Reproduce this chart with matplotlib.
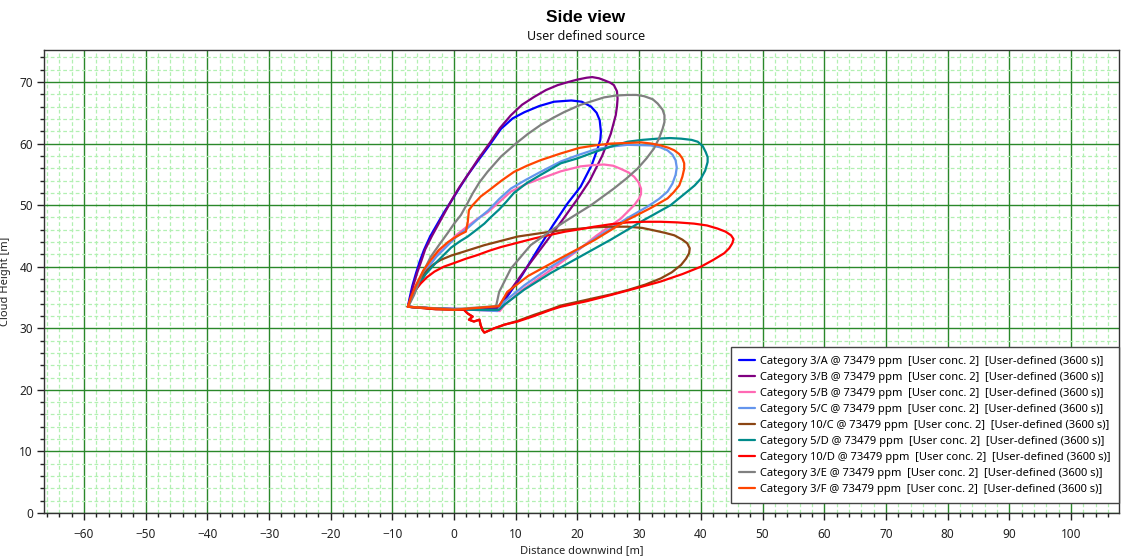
import matplotlib
matplotlib.use("Agg")
import matplotlib.pyplot as plt
from matplotlib.ticker import MultipleLocator

plt.rcParams['font.family'] = ['Noto Sans', 'DejaVu Sans']

# ---------------- data ----------------
labels = [
    "Category 3/A @ 73479 ppm  [User conc. 2]  [User-defined (3600 s)]",
    "Category 3/B @ 73479 ppm  [User conc. 2]  [User-defined (3600 s)]",
    "Category 5/B @ 73479 ppm  [User conc. 2]  [User-defined (3600 s)]",
    "Category 5/C @ 73479 ppm  [User conc. 2]  [User-defined (3600 s)]",
    "Category 10/C @ 73479 ppm  [User conc. 2]  [User-defined (3600 s)]",
    "Category 5/D @ 73479 ppm  [User conc. 2]  [User-defined (3600 s)]",
    "Category 10/D @ 73479 ppm  [User conc. 2]  [User-defined (3600 s)]",
    "Category 3/E @ 73479 ppm  [User conc. 2]  [User-defined (3600 s)]",
    "Category 3/F @ 73479 ppm  [User conc. 2]  [User-defined (3600 s)]",
]
colors = ["#0000ff", "#800080", "#ff69b4", "#6495ed", "#8b4513",
          "#008b8b", "#ff0000", "#808080", "#ff4500"]

x_3A = [-7.5, -7.2, -6.8, -6.2, -5.6, -4.9, -3.9, -2.7, -1.6, -0.5, 0.8, 2.2, 4.0, 5.7,
        7.6, 9.5, 11.4, 13.8, 16.2, 19.0, 20.7, 22.2, 23.1, 23.6, 23.8, 23.7, 23.3, 22.3,
        20.5, 18.4, 16.0, 13.5, 11.0, 8.5, 7.3, 3.0, -3.0, -7.5]
y_3A = [33.5, 35.0, 36.8, 38.9, 40.8, 42.7, 44.9, 47.0, 48.9, 50.6, 52.7, 54.9, 57.4, 59.7,
        62.4, 64.1, 65.1, 66.1, 66.8, 67.0, 66.8, 66.0, 65.0, 63.8, 61.9, 60.6, 59.3, 56.5,
        53.0, 50.3, 46.7, 42.7, 38.6, 35.0, 33.1, 33.1, 33.2, 33.5]

x_3B = [-7.5, -7.1, -6.6, -6.0, -5.3, -4.7, -3.6, -2.5, -1.4, -0.3, 0.9, 2.2, 3.9, 5.7,
        7.4, 9.2, 11.0, 13.0, 14.9, 16.8, 18.5, 20.0, 21.5, 22.4, 23.5, 24.3, 25.3, 25.9,
        26.4, 26.5, 26.4, 26.2, 25.4, 24.0, 22.0, 20.0, 17.5, 14.5, 11.5, 9.0, 7.0, 2.0,
        -3.0, -7.5]
y_3B = [33.5, 35.0, 37.0, 39.0, 41.0, 42.8, 45.0, 47.0, 49.0, 51.0, 53.0, 54.9, 57.5, 60.0,
        62.5, 64.6, 66.3, 67.6, 68.7, 69.5, 70.0, 70.4, 70.7, 70.8, 70.6, 70.3, 69.9, 69.5,
        68.5, 67.3, 66.0, 64.6, 61.6, 58.0, 54.0, 51.0, 47.5, 43.5, 39.5, 36.0, 33.3, 33.1,
        33.2, 33.5]

x_5B = [-7.5, -6.9, -6.3, -5.3, -4.2, -2.9, -1.5, 0.3, 2.2, 3.8, 5.4, 7.2, 9.2, 11.6,
        14.0, 17.3, 20.5, 22.5, 24.3, 25.8, 27.0, 28.3, 29.2, 29.9, 30.3, 30.3, 30.0, 29.2,
        27.0, 23.0, 20.0, 15.0, 11.0, 8.2, 7.4, 3.0, -3.0, -7.5]
y_5B = [33.5, 35.0, 36.4, 38.3, 40.0, 41.8, 43.3, 45.1, 46.6, 47.8, 48.8, 50.4, 52.2, 53.4,
        54.3, 55.5, 56.3, 56.5, 56.6, 56.4, 55.9, 55.3, 54.6, 53.7, 52.7, 51.8, 51.1, 50.0,
        47.8, 45.0, 42.6, 39.0, 36.2, 33.8, 32.8, 33.0, 33.2, 33.5]

x_5C = [-7.5, -7.0, -6.4, -5.4, -4.2, -2.9, -1.5, 0.3, 2.2, 3.9, 5.6, 7.3, 9.2, 11.6,
        14.0, 17.3, 20.0, 22.7, 25.4, 28.1, 31.9, 33.4, 34.6, 35.4, 35.9, 36.1, 35.9, 35.4,
        34.6, 33.2, 31.4, 28.1, 22.7, 20.0, 15.7, 11.4, 8.1, 7.0, 3.0, -3.0, -7.5]
y_5C = [33.5, 34.8, 36.2, 38.2, 39.9, 41.6, 43.0, 44.8, 46.3, 47.8, 49.2, 51.0, 52.7, 54.1,
        55.4, 57.1, 58.1, 59.0, 59.5, 59.8, 59.7, 59.4, 58.9, 58.2, 57.3, 56.1, 54.9, 53.5,
        52.2, 51.0, 49.8, 47.9, 44.5, 42.7, 40.0, 37.0, 34.3, 32.8, 33.0, 33.2, 33.5]

x_10C = [-7.5, -7.0, -6.5, -5.9, -5.1, -4.3, -3.3, -2.2, -0.5, 1.1, 3.0, 4.9, 7.6, 10.3,
         13.0, 15.7, 18.0, 20.5, 22.7, 25.4, 28.1, 30.5, 32.4, 34.2, 35.7, 37.0, 37.8, 38.2,
         38.1, 37.6, 36.8, 35.3, 33.5, 31.0, 28.1, 25.4, 22.7, 20.0, 17.3, 15.7, 13.0, 10.3,
         8.2, 6.5, 4.9, 4.6, 4.3, 4.1, 3.2, 2.4, 3.0, 2.2, 1.6, -3.0, -7.5]
y_10C = [33.5, 34.6, 36.0, 37.3, 38.5, 39.5, 40.4, 41.1, 41.8, 42.3, 42.9, 43.5, 44.2, 44.9,
         45.3, 45.7, 46.0, 46.2, 46.4, 46.5, 46.5, 46.3, 45.9, 45.5, 45.1, 44.4, 43.8, 43.0,
         42.2, 41.3, 40.3, 39.1, 38.1, 37.1, 36.2, 35.5, 34.9, 34.3, 33.7, 33.1, 32.2, 31.2,
         30.6, 30.0, 29.3, 29.7, 30.5, 31.4, 31.1, 31.4, 31.9, 32.4, 33.0, 33.1, 33.5]

x_5D = [-7.5, -6.9, -6.0, -4.6, -3.0, -1.6, -0.5, 0.9, 2.2, 3.5, 4.9, 6.0, 7.3, 8.5, 9.7,
        11.8, 14.0, 17.3, 20.0, 22.7, 25.4, 28.1, 30.5, 33.0, 35.0, 36.8, 38.5, 39.5, 40.3,
        40.8, 41.1, 41.1, 40.7, 40.0, 39.0, 37.8, 35.1, 30.8, 25.4, 20.0, 15.7, 11.4, 8.1,
        7.3, 3.0, -3.0, -7.5]
y_5D = [33.5, 34.9, 36.6, 38.8, 40.6, 42.0, 43.1, 44.1, 44.9, 45.9, 47.0, 48.1, 49.3, 50.6,
        52.0, 53.6, 54.9, 56.8, 57.6, 58.6, 59.5, 60.3, 60.6, 60.8, 60.9, 60.8, 60.6, 60.3,
        59.6, 58.6, 57.8, 57.0, 55.6, 54.3, 53.2, 52.2, 50.0, 47.6, 44.4, 41.4, 39.0, 36.3,
        33.8, 33.0, 33.0, 33.2, 33.5]

x_10D = [-7.5, -7.0, -6.3, -5.4, -4.4, -3.2, -1.7, 0.0, 1.9, 3.8, 5.7, 7.6, 10.3, 13.0,
         15.7, 18.0, 20.5, 22.7, 25.4, 28.1, 30.8, 33.5, 36.2, 38.9, 41.0, 42.7, 44.0, 44.9,
         45.3, 45.1, 44.6, 43.8, 42.0, 40.0, 37.0, 33.5, 29.5, 25.4, 21.5, 17.3, 15.7, 13.0,
         10.3, 8.2, 6.5, 4.9, 4.6, 4.3, 4.1, 3.2, 2.4, 3.0, 2.2, 1.6, -3.0, -7.5]
y_10D = [33.5, 35.0, 36.2, 37.3, 38.3, 39.2, 40.0, 40.6, 41.3, 41.9, 42.6, 43.2, 43.9, 44.6,
         45.2, 45.7, 46.1, 46.5, 46.9, 47.2, 47.3, 47.3, 47.2, 47.0, 46.7, 46.2, 45.7, 45.1,
         44.5, 43.8, 43.0, 42.2, 41.1, 40.0, 38.8, 37.6, 36.5, 35.4, 34.4, 33.5, 33.0, 32.0,
         31.1, 30.6, 30.0, 29.3, 29.7, 30.5, 31.4, 31.1, 31.4, 31.9, 32.4, 33.0, 33.1, 33.5]

x_3E = [-7.5, -7.0, -6.5, -5.3, -3.8, -2.4, -1.1, 0.0, 1.1, 2.1, 3.0, 4.1, 5.4, 7.6, 10.0,
        12.0, 14.0, 15.9, 17.8, 20.5, 22.4, 24.3, 26.2, 28.1, 29.6, 30.8, 32.2, 33.0, 33.8,
        34.1, 34.1, 33.8, 33.2, 32.4, 31.2, 29.7, 27.9, 25.9, 22.2, 19.0, 16.2, 12.4, 9.2,
        7.3, 6.8, 0.0, -7.5]
y_3E = [33.5, 34.4, 35.4, 38.6, 41.6, 43.6, 45.4, 47.0, 48.4, 50.2, 51.9, 53.7, 55.4, 57.9,
        60.0, 61.6, 63.0, 64.1, 65.1, 66.3, 66.9, 67.5, 67.8, 67.9, 67.9, 67.7, 67.2, 66.5,
        65.5, 64.6, 63.5, 62.4, 60.8, 59.2, 57.6, 55.9, 54.3, 52.7, 50.0, 48.0, 46.2, 43.5,
        39.7, 35.9, 33.6, 33.1, 33.5]

x_3F = [-7.5, -7.0, -6.3, -5.0, -3.7, -2.5, -1.0, 0.2, 1.1, 1.9, 2.2, 2.4, 3.0, 4.3, 5.9,
        7.7, 9.7, 11.8, 14.0, 17.3, 20.3, 22.8, 25.4, 28.0, 30.3, 32.0, 33.5, 34.8, 35.7,
        36.5, 37.0, 37.3, 37.3, 37.0, 36.5, 35.6, 34.6, 32.0, 28.1, 22.7, 17.3, 12.0, 8.6,
        7.3, 0.0, -7.5]
y_3F = [33.5, 35.0, 36.8, 39.4, 41.2, 42.7, 44.0, 44.8, 45.3, 45.7, 47.2, 49.2, 50.0, 51.4,
        52.6, 54.0, 55.4, 56.4, 57.3, 58.4, 59.3, 59.7, 60.0, 60.1, 60.2, 60.0, 59.7, 59.3,
        58.9, 58.3, 57.6, 56.8, 55.9, 54.6, 53.2, 52.1, 51.1, 49.6, 47.6, 44.3, 41.4, 38.5,
        35.9, 33.6, 33.0, 33.5]

series_x = [x_3A, x_3B, x_5B, x_5C, x_10C, x_5D, x_10D, x_3E, x_3F]
series_y = [y_3A, y_3B, y_5B, y_5C, y_10C, y_5D, y_10D, y_3E, y_3F]

x_major_ticks = list(range(-60, 101, 10))
y_major_ticks = list(range(0, 71, 10))

# ---------------- figure ----------------
W, H = 1121, 557
fig = plt.figure(figsize=(W / 100, H / 100), dpi=100)
ax = fig.add_axes([44 / W, (H - 513) / H, (1119 - 44) / W, (513 - 50) / H])

for xs, ys, c, lab in zip(series_x, series_y, colors, labels):
    ax.plot(xs, ys, color=c, lw=1.6, label=lab,
            solid_joinstyle='round', solid_capstyle='round')

ax.set_xlim(-66.5, 107.8)
ax.set_ylim(0, 75.2)
ax.set_xticks(x_major_ticks)
ax.set_yticks(y_major_ticks)
ax.xaxis.set_minor_locator(MultipleLocator(2))
ax.yaxis.set_minor_locator(MultipleLocator(2))

ax.set_axisbelow(True)
ax.grid(which='minor', color='#b2f0b2', lw=0.9, ls=(0, (3, 2)))
ax.grid(which='major', color='#2a882a', lw=1.0, ls='-')

ax.tick_params(which='major', direction='out', length=5, width=1, color='#222222',
               labelsize=8.5, labelcolor='#222222')
ax.tick_params(which='minor', direction='out', length=3, width=1, color='#222222')
ax.tick_params(axis='x', pad=6)
ax.tick_params(axis='y', pad=3)

for s in ax.spines.values():
    s.set_color('#333333')
    s.set_linewidth(1.0)

ax.set_xlabel("Distance downwind [m]", fontsize=8, color='#222222', labelpad=3)
ax.set_ylabel("Cloud Height [m]", fontsize=8, color='#222222', labelpad=6)

fig.text(586 / W, 1 - 17 / H, "Side view", ha='center', va='center',
         fontsize=12.5, fontweight='bold', color='black',
         family=['Liberation Sans', 'DejaVu Sans'])
fig.text(586 / W, 1 - 37 / H, "User defined source", ha='center', va='center',
         fontsize=9, color='#111111')

leg = ax.legend(loc='lower right', bbox_to_anchor=(1.0, 10 / 463), borderaxespad=0,
                fontsize=8, frameon=True, fancybox=False, framealpha=1,
                edgecolor='#444444', labelspacing=0.45, handlelength=1.4,
                handletextpad=0.5, borderpad=0.75)
leg.get_frame().set_linewidth(1.0)

fig.savefig("out.png", dpi=100)
